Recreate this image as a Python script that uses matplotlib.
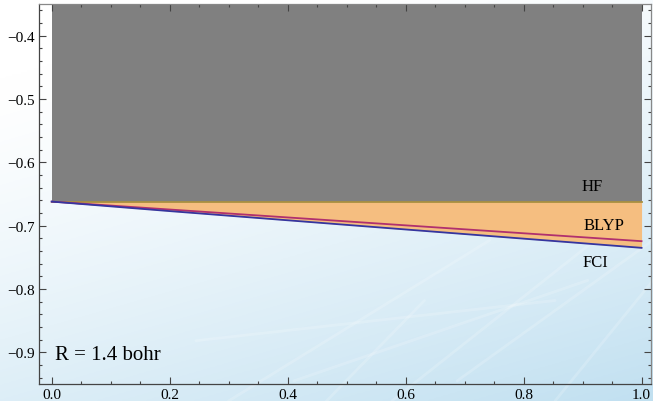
import numpy as np
import matplotlib
matplotlib.use("Agg")
import matplotlib.pyplot as plt

# values
x = [0.0, 0.2, 0.4, 0.6, 0.8, 1.0]
hf = [-0.662, -0.662, -0.662, -0.662, -0.662, -0.662]
blyp = [-0.662, -0.6745, -0.687, -0.6995, -0.712, -0.7245]
fci = [-0.662, -0.677, -0.6915, -0.706, -0.7205, -0.735]
labels = ["HF", "BLYP", "FCI"]
label_pos = [(0.917, -0.638), (0.936, -0.699), (0.922, -0.758)]
note = "R = 1.4 bohr"

serif = ["Liberation Serif", "DejaVu Serif"]


def background(fig):
    bg = fig.add_axes([0, 0, 1, 1])
    bg.set_axis_off()
    xx, yy = np.meshgrid(np.linspace(0, 1, 300), np.linspace(0, 1, 200))
    t = np.clip(0.75 * yy + 0.35 * xx - 0.15, 0, 1) ** 1.3
    white = np.array([1.0, 1.0, 1.0])
    blue = np.array([0.74, 0.87, 0.94])
    img = white[None, None, :] * (1 - t[..., None]) + blue[None, None, :] * t[..., None]
    bg.imshow(img, extent=[0, 1, 0, 1], aspect="auto", zorder=0)
    # faint white swooshes
    for x0, y0, x1, y1 in [(0.35, 0.0, 0.75, 0.4), (0.45, 0.05, 0.9, 0.3),
                           (0.6, 0.0, 0.95, 0.45), (0.3, 0.15, 0.85, 0.25),
                           (0.7, 0.05, 1.0, 0.4), (0.5, 0.0, 0.65, 0.25),
                           (0.85, 0.0, 1.0, 0.3)]:
        bg.plot([x0, x1], [y0, y1], color="white", lw=2, alpha=0.18,
                solid_capstyle="round")
    bg.set_xlim(0, 1)
    bg.set_ylim(0, 1)


def main():
    fig = plt.figure(figsize=(6.53, 4.02), dpi=100)
    background(fig)
    ax = fig.add_axes([39 / 653, 17 / 402, 612 / 653, 380 / 402])
    ax.patch.set_alpha(0)

    ax.fill_between(x, hf, -0.35, color="#808080", lw=0, zorder=1)
    ax.fill_between(x, hf, fci, color="#f5be80", lw=0, zorder=1)
    ax.plot(x, hf, color="#a89040", lw=1.3, zorder=3)
    ax.plot(x, blyp, color="#b0306e", lw=1.3, zorder=3)
    ax.plot(x, fci, color="#3535a0", lw=1.3, zorder=3)

    for lab, (lx, ly) in zip(labels, label_pos):
        ax.text(lx, ly, lab, ha="center", va="center", fontsize=12,
                family=serif, zorder=4)
    ax.text(0.006, -0.903, note, ha="left", va="center", fontsize=15,
            family=serif, zorder=4)

    ax.set_xlim(-0.0215, 1.016)
    ax.set_ylim(-0.95, -0.35)
    ax.set_xticks(np.arange(0, 1.01, 0.2))
    ax.set_xticks(np.arange(0, 1.01, 0.05), minor=True)
    ax.set_yticks(np.arange(-0.9, -0.35, 0.1))
    ax.set_yticks(np.arange(-0.94, -0.35, 0.02), minor=True)
    ax.set_xticklabels(["%.1f" % v for v in np.arange(0, 1.01, 0.2)])
    ax.set_yticklabels(["\u2212%.1f" % -v for v in np.arange(-0.9, -0.35, 0.1)])
    ax.tick_params(which="both", direction="in", top=True, right=True,
                   color="#444444", width=0.8)
    ax.tick_params(which="major", length=5, labelsize=11, pad=3)
    ax.tick_params(which="minor", length=2.5)
    for lab in ax.get_xticklabels() + ax.get_yticklabels():
        lab.set_family(serif)
    for s in ax.spines.values():
        s.set_color("#444444")
        s.set_linewidth(0.9)
    ax.spines["top"].set_color("#888888")
    ax.spines["right"].set_color("#888888")

    fig.savefig("out.png", dpi=100)


if __name__ == '__main__':
    main()
